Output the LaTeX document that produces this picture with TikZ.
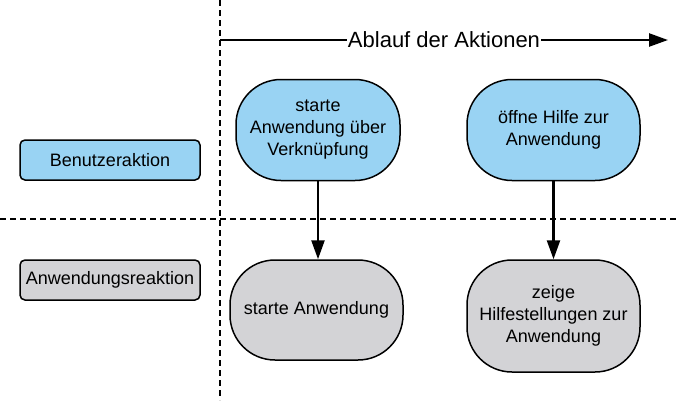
\documentclass[tikz,border=0pt]{standalone}
\usepackage{fontspec}
\setmainfont{Liberation Sans}
\usepackage{xcolor}
\usetikzlibrary{arrows.meta}
\usetikzlibrary{calc}
\definecolor{aktionblau}{HTML}{99D3F3}
\definecolor{reaktiongrau}{HTML}{D3D3D6}

\begin{document}
\begin{tikzpicture}[x=1pt,y=-1pt,
    lane/.style={draw,line width=1.5pt,rounded corners=5pt,minimum width=180pt,minimum height=40pt,font=\fontsize{18}{20}\selectfont},
    schritt/.style={draw,line width=1.5pt,rounded corners=45pt,align=center,font=\fontsize{18}{22}\selectfont},
    pfeil/.style={line width=2.4pt,-{Triangle[length=19pt,width=13pt]}}]
        \useasboundingbox (0,0) rectangle (678,400);
        \draw[line width=1.8pt,dash pattern=on 6pt off 4pt] (220,0)--(220,400);
        \draw[line width=1.8pt,dash pattern=on 6pt off 4pt] (0,219)--(678,219);
        \coordinate (start) at (220,40);
        \coordinate (ende) at (668,40);
        \draw[pfeil] (start)--(ende) node[midway,fill=white,inner sep=1pt,font=\fontsize{22}{24}\selectfont]{Ablauf der Aktionen};

        \node[lane,fill=aktionblau] (benutzer) at (110,160){Benutzeraktion};
        \node[lane,fill=reaktiongrau] (reaktion) at (110,280){Anwendungsreaktion};

        \node[schritt,fill=aktionblau,minimum width=164pt,minimum height=101pt] (a1) at (318,130){starte\\Anwendung über\\Verknüpfung};
        \node[schritt,fill=aktionblau,minimum width=173pt,minimum height=101pt] (a2) at (553.5,130){öffne Hilfe zur\\Anwendung};
        \node[schritt,fill=reaktiongrau,minimum width=173pt,minimum height=100pt] (r1) at (316.5,310){starte Anwendung};
        \node[schritt,fill=reaktiongrau,minimum width=173pt,minimum height=112pt] (r2) at (553.5,316){zeige\\Hilfestellungen zur\\Anwendung};

        \draw[pfeil] (a1)--(a1|-r1.north);
        \draw[pfeil] (a2)--(r2);
    \end{tikzpicture}
\end{document}
